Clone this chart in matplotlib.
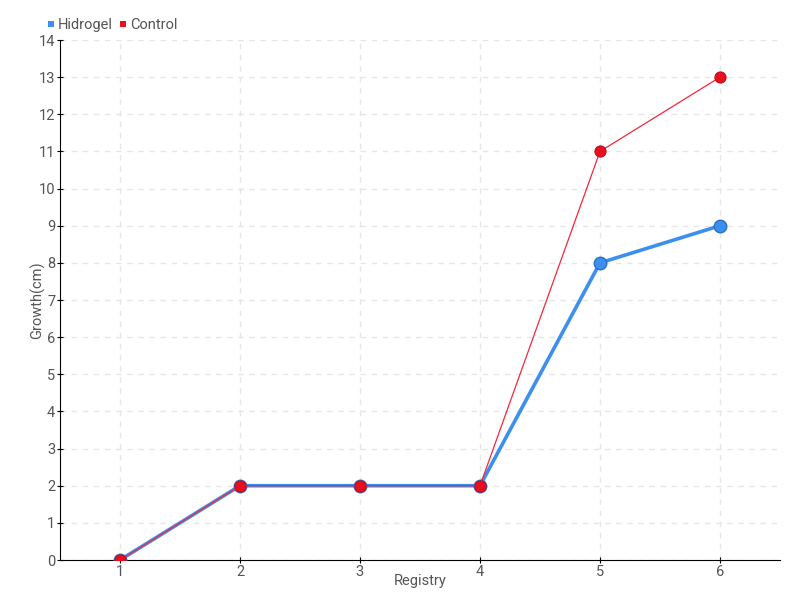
import numpy as np
import matplotlib.pyplot as plt

plt.rcParams["font.family"] = ["Roboto", "DejaVu Sans"]

registry = [1, 2, 3, 4, 5, 6]
hidrogel = [0, 2, 2, 2, 8, 9]
control = [0, 2, 2, 2, 11, 13]

fig = plt.figure(figsize=(8, 6), dpi=100)
ax = fig.add_axes([60/800, 40/600, 720/800, 520/600])

ax.plot(registry, hidrogel, color='#3d8fef', lw=2.6, marker='o', ms=9,
        mfc='#3d8fef', mec='#2b6fc4', mew=1, label='Hidrogel', zorder=3)
ax.plot(registry, control, color='#f2283c', lw=0.9, marker='o', ms=8,
        mfc='#e8101f', mec='#c40c1a', mew=0.8, label='Control', zorder=4)

ax.set_xlim(0.5, 6.5)
ax.set_ylim(0, 14)
ax.set_xticks(registry)
ax.set_yticks(range(0, 15))
ax.grid(True, color='#e6e6e6', ls=(0, (4, 4)), lw=1)
ax.set_axisbelow(True)
for s in ['top', 'right']:
    ax.spines[s].set_visible(False)
ax.tick_params(labelcolor='#555555', labelsize=10.5, length=5, direction='inout', pad=1)
ax.set_xlabel("Registry", color='#555555', fontsize=10.5)
ax.set_ylabel("Growth(cm)", color='#555555', fontsize=10.5)
ax.xaxis.set_label_coords(0.5, -0.026)
ax.yaxis.set_label_coords(-0.02, 0.5)

leg = ax.legend(loc='lower left', bbox_to_anchor=(-0.02, 1.01), ncol=2, frameon=False,
                handlelength=0.4, handletextpad=0.25, columnspacing=0.5,
                fontsize=10.5, borderaxespad=0, borderpad=0.2)
for h in leg.legend_handles:
    h.set_linestyle('None')
    h.set_marker('s')
    h.set_markersize(4)
    h.set_markeredgewidth(0)
for t in leg.get_texts():
    t.set_color('#555555')

plt.savefig("out.png")
